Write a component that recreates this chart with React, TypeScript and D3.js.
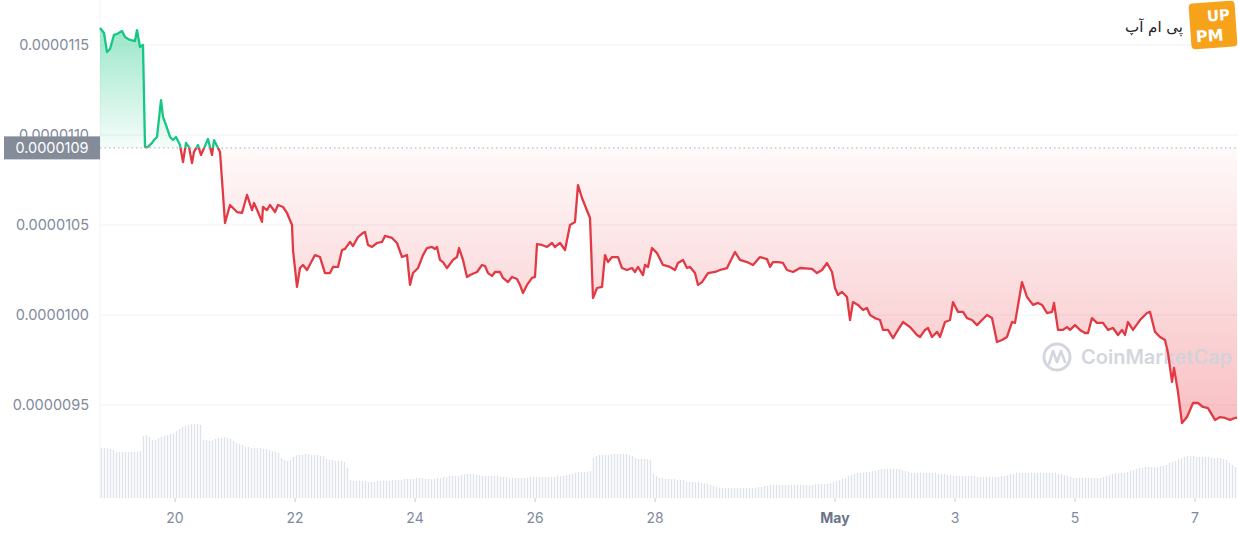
import React from "react";
import * as d3 from "d3";

// ---- DATA ----
// price readings: hours after 18 Apr 2023 18:00, value in units of 1e-7 USD
const priceHours = [0,1.6,2.8,4.0,5.6,6.8,8.8,10.0,12.0,14.0,14.8,16.0,17.2,18.0,19.2,20.8,21.6,22.8,24.4,25.2,26.4,28.0,29.2,30.4,32.0,33.2,34.4,35.6,36.8,37.6,39.2,40.4,42.0,43.2,44.8,45.6,46.8,48.0,48.8,50.0,52.0,54.8,56.8,58.8,60.8,61.6,63.2,64.8,65.2,66.8,68.0,70.0,71.2,73.2,74.8,76.8,77.2,78.8,80.0,81.2,82.8,86.0,88.0,90.0,92.0,93.2,95.2,96.8,98.0,100.0,101.2,103.2,105.2,106.0,107.2,108.8,110.8,112.8,114.0,116.8,118.8,120.8,122.8,124.0,125.2,127.2,129.2,130.8,132.8,134.0,134.8,136.0,137.2,138.8,141.2,142.8,143.6,145.2,146.8,148.0,150.8,152.8,154.0,155.2,156.8,158.0,160.0,161.2,163.2,164.8,166.8,168.0,169.2,170.8,172.8,174.0,174.8,176.8,178.8,180.8,182.0,184.0,186.0,188.0,190.0,191.2,192.8,196.0,197.2,198.8,200.8,202.0,203.2,204.8,207.2,208.8,210.8,212.8,214.0,215.2,217.2,218.0,219.2,220.8,222.8,225.2,228.0,230.0,231.2,233.2,234.8,236.0,238.0,239.2,240.8,243.2,246.0,248.0,250.8,254.0,256.0,258.8,261.2,264.0,266.8,268.0,269.2,271.2,273.2,274.8,277.2,280.0,284.8,286.8,288.8,290.8,292.8,294.0,295.2,296.8,298.8,300.0,301.2,303.2,305.2,306.8,308.0,310.0,312.0,313.2,315.2,317.2,319.2,321.2,324.0,326.8,328.0,330.0,331.2,332.8,334.8,336.0,338.0,340.0,341.2,343.2,345.2,346.8,348.8,350.8,352.8,354.8,356.8,358.8,360.8,362.8,364.8,366.0,368.8,370.8,373.2,375.2,376.8,378.8,380.8,381.6,383.2,385.2,386.8,388.0,390.0,392.0,394.0,395.2,396.8,398.8,401.2,403.2,405.2,407.2,408.8,410.0,411.2,413.2,416.0,418.8,420.0,422.0,424.0,426.0,427.2,428.8,429.6,431.2,432.8,434.8,437.2,439.2,441.2,443.2,446.0,448.0,450.0,452.0,454.0,454.8];

const priceValuesE7 = [115.94,115.67,114.61,114.78,115.56,115.61,115.78,115.44,115.28,115.22,115.83,114.89,115.0,
109.33,109.33,109.56,109.72,109.89,111.94,111.0,110.56,109.89,109.72,109.89,109.44,108.5,109.56,109.33,108.44,109.06,109.44,108.89,109.39,109.78,108.89,109.72,109.39,109.06,
107.5,105.11,106.11,105.72,105.67,106.67,105.83,106.22,105.72,105.17,106.0,105.83,106.11,105.72,106.11,106.0,105.67,105.0,
103.61,101.56,102.61,102.78,102.5,103.33,103.22,102.33,102.33,102.67,102.67,
103.61,103.67,104.06,103.83,104.33,104.56,104.61,103.89,103.78,104.0,104.06,104.39,104.28,104.0,
103.22,103.33,101.67,102.33,102.61,103.33,103.72,103.78,103.67,103.78,103.06,102.94,102.61,103.06,103.22,103.72,103.06,
102.11,102.22,102.39,102.78,102.72,102.33,102.17,102.39,102.39,102.06,101.83,102.11,102.0,101.67,101.22,101.67,102.06,102.11,
103.94,103.89,103.78,104.0,103.78,104.0,103.61,105.0,105.17,107.22,106.5,105.39,
100.94,101.5,101.56,103.33,102.94,103.22,103.22,102.61,102.5,102.61,102.39,102.67,102.22,102.78,102.67,
103.72,103.44,102.78,102.67,102.5,102.89,103.06,102.61,102.67,102.33,101.67,101.83,102.33,102.39,102.5,102.61,
103.5,103.06,102.94,102.78,103.22,103.11,102.67,102.94,102.94,102.89,102.5,102.39,102.61,102.56,102.33,102.5,102.89,102.39,
101.5,101.11,101.28,101.0,99.72,100.72,100.56,100.28,100.39,100.0,99.83,99.72,99.17,99.17,98.72,99.17,99.61,99.33,98.89,98.78,99.17,99.28,98.78,99.06,98.78,99.61,99.72,
100.72,100.17,100.17,99.83,99.72,99.44,99.72,100.0,99.83,98.5,98.61,98.78,99.61,99.56,
101.83,101.0,100.56,100.67,100.56,100.11,100.17,100.67,99.17,99.17,99.33,99.17,99.44,99.17,99.0,99.0,99.83,99.56,99.56,99.17,99.28,98.89,99.17,98.89,99.61,99.17,99.72,100.11,100.17,
99.06,98.78,98.61,97.89,96.28,97.06,95.72,94.0,94.33,95.11,95.11,94.89,94.83,94.17,94.33,94.28,94.17,94.28,94.28];

// volume bars, one every 1.2 h (relative units)
const volumeValues = [50,50,50,49,48,
46,46,46,46,46,46,46,46,47,
62,63,61,58,58,60,61,62,63,64,65,67,69,71,72,73,74,74,74,73,
58,58,57,58,59,60,60,61,60,59,57,55,54,53,
51,51,50,50,50,50,49,49,48,47,46,45,40,38,37,38,41,
43,43,43,44,44,43,43,43,42,42,39,38,38,37,37,37,36,30,
18,17,17,17,17,17,16,16,16,17,17,17,17,17,18,18,18,18,
19,19,19,19,20,20,20,19,19,19,19,20,20,
21,21,22,22,22,22,23,24,24,24,24,23,23,
22,22,22,22,22,22,21,21,21,20,20,20,20,20,20,20,21,21,
21,21,21,21,21,21,21,22,22,22,23,24,24,25,26,26,26,26,27,
40,42,43,43,43,43,44,44,44,44,44,44,43,42,40,39,39,39,39,38,24,22,
20,20,19,19,19,19,18,18,18,16,16,16,16,16,15,15,14,13,12,
11,10,10,10,10,10,10,10,10,10,10,10,10,10,11,11,
12,12,13,13,13,13,13,13,13,13,13,13,13,13,13,13,13,14,14,14,14,14,15,
16,17,18,19,20,22,23,24,25,25,25,26,26,27,27,
28,29,29,29,29,29,29,29,28,27,26,25,25,25,25,25,25,25,25,25,24,24,24,23,
23,22,22,22,22,22,22,22,22,21,21,21,21,21,21,21,21,22,22,23,24,
24,25,25,25,25,25,25,25,25,25,25,25,25,25,25,24,24,23,22,21,
20,20,20,20,20,20,20,20,20,20,21,22,23,24,25,25,25,25,26,27,
28,29,30,30,31,31,31,31,31,32,32,33,35,36,37,39,
40,41,42,42,42,41,41,41,41,41,40,40,40,40,39,38,35,33,31];
const volumeStepHours = 1.2;

const yTickValues = [0.0000095, 0.0000100, 0.0000105, 0.0000110, 0.0000115];
const xTickDates = [[2023,3,20],[2023,3,22],[2023,3,24],[2023,3,26],[2023,3,28],[2023,4,1],[2023,4,3],[2023,4,5],[2023,4,7]];
const xTickLabels = ["20","22","24","26","28","May","3","5","7"];
const baselinePrice = 0.0000109285;
const baselineLabel = "0.0000109";

// ---- CHART ----
const W = 1238, H = 533;
const start = new Date(2023, 3, 18, 18, 0);
const end = new Date(2023, 4, 7, 17, 12);
const HOUR = 3600 * 1000;

export default function App() {
  const x = d3.scaleTime().domain([start, end]).range([100, 1238]);
  const y = d3.scaleLinear().domain([0.0000095, 0.0000115]).range([405, 45]);
  const yVol = d3.scaleLinear().domain([0, 80]).range([498, 418]);

  const n = Math.min(priceHours.length, priceValuesE7.length);
  const pts = d3.range(n).map(i => ({ t: new Date(start.getTime() + priceHours[i] * HOUR), v: priceValuesE7[i] * 1e-7 }));
  const line = d3.line<any>().x(d => x(d.t)).y(d => y(d.v));
  const area = d3.area<any>().x(d => x(d.t)).y0(y(baselinePrice)).y1(d => y(d.v));
  const by = y(baselinePrice);

  const bars = volumeValues.map((v, i) => ({ t: new Date(start.getTime() + (i + 0.5) * volumeStepHours * HOUR), v }));

  const axisColor = "#808a9d";
  const font = "Inter, 'Noto Sans', sans-serif";

  return (
    <div style={{ position: "fixed", left: 0, top: 0 }}>
      <svg width={W} height={H} style={{ display: "block", background: "#fff" }}>
        <defs>
          <linearGradient id="gGreen" gradientUnits="userSpaceOnUse" x1="0" y1={y(0.00001162)} x2="0" y2={by}>
            <stop offset="0" stopColor="#16c784" stopOpacity="0.45" />
            <stop offset="1" stopColor="#16c784" stopOpacity="0.04" />
          </linearGradient>
          <linearGradient id="gRed" gradientUnits="userSpaceOnUse" x1="0" y1={by} x2="0" y2={y(0.0000094)}>
            <stop offset="0" stopColor="#ea3943" stopOpacity="0.03" />
            <stop offset="1" stopColor="#ea3943" stopOpacity="0.32" />
          </linearGradient>
          <clipPath id="cAbove"><rect x={0} y={0} width={W} height={by} /></clipPath>
          <clipPath id="cBelow"><rect x={0} y={by} width={W} height={H - by} /></clipPath>
        </defs>

        {/* grid */}
        {yTickValues.map((t, i) => (
          <line key={"g" + i} x1={100} x2={1238} y1={y(t)} y2={y(t)} stroke="#eff2f5" strokeWidth={1} />
        ))}
        <line x1={100} x2={100} y1={0} y2={498} stroke="#f3f4f6" strokeWidth={1} />

        {/* volume */}
        {bars.map((b, i) => (
          <rect key={"v" + i} x={x(b.t) - 0.7} y={yVol(b.v)} width={1.4} height={yVol(0) - yVol(b.v)} fill="#dfe3e9" />
        ))}

        {/* areas */}
        <path d={area(pts) || ""} fill="url(#gGreen)" clipPath="url(#cAbove)" />
        <path d={area(pts) || ""} fill="url(#gRed)" clipPath="url(#cBelow)" />

        {/* baseline */}
        <line x1={100} x2={1238} y1={by} y2={by} stroke="#a6b0c3" strokeWidth={1} strokeDasharray="1.5 3" />

        {/* watermark */}
        <g opacity={0.9}>
          <circle cx={1057} cy={357} r={13} fill="none" stroke="#cfd3da" strokeWidth={3} />
          <path d="M1049,364 L1053,351 L1057,362 L1061,351 L1065,362" fill="none" stroke="#cfd3da" strokeWidth={2.6} strokeLinejoin="round" strokeLinecap="round" />
          <text x={1081} y={364} fontFamily={font} fontSize={20} fontWeight={600} fill="#cfd3da">CoinMarketCap</text>
        </g>

        {/* price lines */}
        <path d={line(pts) || ""} fill="none" stroke="#16c784" strokeWidth={2.3} strokeLinejoin="round" clipPath="url(#cAbove)" />
        <path d={line(pts) || ""} fill="none" stroke="#e23a45" strokeWidth={2.3} strokeLinejoin="round" clipPath="url(#cBelow)" />

        {/* y labels */}
        {yTickValues.map((t, i) => (
          <text key={"yl" + i} x={89} y={y(t) + 5} textAnchor="end" fontFamily={font} fontSize={14.5} fill={axisColor}>
            {t.toFixed(7)}
          </text>
        ))}

        {/* current price badge */}
        <rect x={4} y={by - 11.5} width={96} height={23} fill="#858c99" />
        <text x={52} y={by + 5} textAnchor="middle" fontFamily={font} fontSize={14.5} fill="#ffffff">{baselineLabel}</text>

        {/* x ticks */}
        {xTickDates.map((d, i) => {
          const xx = x(new Date(d[0], d[1], d[2]));
          const isMonth = xTickLabels[i] === "May";
          return (
            <g key={"xt" + i}>
              <line x1={xx} x2={xx} y1={498} y2={502} stroke="#c3c8d0" strokeWidth={1} />
              <text x={xx} y={523} textAnchor="middle" fontFamily={font} fontSize={14}
                fontWeight={isMonth ? 700 : 400} fill={isMonth ? "#6b7488" : axisColor}>
                {xTickLabels[i]}
              </text>
            </g>
          );
        })}

        {/* logo */}
        <g>
          <text x={1183} y={32} textAnchor="end" fontFamily="'DejaVu Sans', sans-serif" fontSize={15} fill="#222">پی ام آپ</text>
          <g transform="translate(1213,25) rotate(-4)">
            <rect x={-23} y={-23} width={46} height={46} rx={4} fill="#f7a21b" />
            <text x={6} y={-4} textAnchor="middle" fontFamily="'DejaVu Sans', sans-serif" fontWeight={700} fontSize={15} fill="#fff">UP</text>
            <text x={-4} y={16} textAnchor="middle" fontFamily="'DejaVu Sans', sans-serif" fontWeight={700} fontSize={16} fill="#fff">PM</text>
          </g>
        </g>
      </svg>
    </div>
  );
}
